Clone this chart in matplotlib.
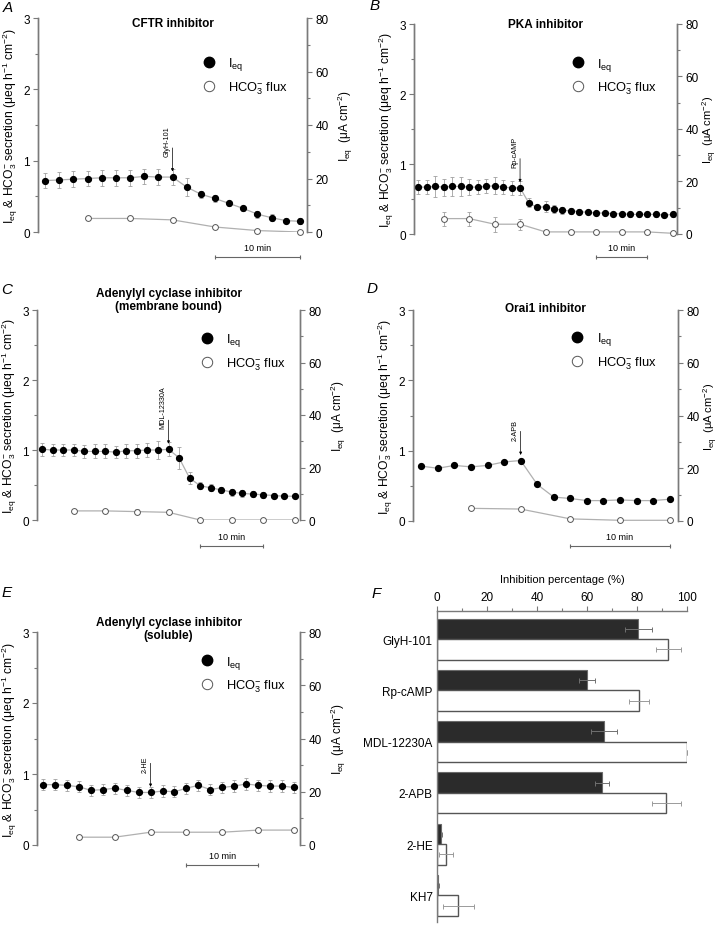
import numpy as np
import matplotlib
matplotlib.use("Agg")
import matplotlib.pyplot as plt
from matplotlib.lines import Line2D
from matplotlib.ticker import MultipleLocator

plt.rcParams['font.family'] = ['Liberation Sans', 'DejaVu Sans']
plt.rcParams['mathtext.fontset'] = 'custom'
plt.rcParams['mathtext.rm'] = 'Liberation Sans'
plt.rcParams['mathtext.it'] = 'Liberation Sans:italic'
plt.rcParams['mathtext.bf'] = 'Liberation Sans:bold'
plt.rcParams['mathtext.default'] = 'regular'

# ---------------- data ----------------
# Panel A: CFTR inhibitor (GlyH-101)
A_ieq = [0.72, 0.73, 0.74, 0.75, 0.76, 0.76, 0.76, 0.78, 0.77, 0.77,
         0.63, 0.53, 0.47, 0.40, 0.33, 0.25, 0.20, 0.16, 0.15]
A_ieq_err = [0.11, 0.11, 0.11, 0.11, 0.11, 0.11, 0.11, 0.11, 0.11, 0.11,
             0.13, 0.05, 0.05, 0.04, 0.04, 0.05, 0.05, 0.04, 0.04]
A_hco3_t = [3, 6, 9, 12, 15, 18]
A_hco3 = [0.19, 0.19, 0.17, 0.07, 0.02, 0.00]
A_hco3_err = [0.02, 0.02, 0.03, 0.02, 0.01, 0.01]

# Panel B: PKA inhibitor (Rp-cAMP)
B_ieq = [0.67, 0.67, 0.68, 0.67, 0.68, 0.68, 0.67, 0.67, 0.68, 0.69, 0.67, 0.66, 0.66,
         0.45, 0.38, 0.39, 0.36, 0.34, 0.33, 0.32, 0.31, 0.30, 0.30, 0.29, 0.29,
         0.28, 0.28, 0.28, 0.28, 0.27, 0.28]
B_ieq_err = [0.10, 0.10, 0.15, 0.12, 0.14, 0.13, 0.11, 0.10, 0.10, 0.12, 0.10, 0.10, 0.10,
             0.06, 0.04, 0.08, 0.06, 0.05, 0.04, 0.04, 0.03, 0.03, 0.03, 0.03, 0.03,
             0.03, 0.03, 0.03, 0.03, 0.03, 0.03]
B_hco3_t = [3, 6, 9, 12, 15, 18, 21, 24, 27, 30]
B_hco3 = [0.22, 0.22, 0.14, 0.14, 0.03, 0.03, 0.03, 0.03, 0.03, 0.01]
B_hco3_err = [0.10, 0.10, 0.11, 0.08, 0.02, 0.02, 0.02, 0.02, 0.02, 0.01]

# Panel C: adenylyl cyclase inhibitor, membrane bound (MDL-12330A)
C_ieq = [1.01, 1.00, 1.00, 1.00, 0.98, 0.98, 0.98, 0.97, 0.99, 0.99, 1.00, 1.00, 1.01,
         0.89, 0.60, 0.49, 0.46, 0.43, 0.40, 0.38, 0.37, 0.36, 0.35, 0.34, 0.34]
C_ieq_err = [0.09, 0.09, 0.09, 0.09, 0.09, 0.10, 0.10, 0.09, 0.10, 0.10, 0.10, 0.13, 0.10,
             0.16, 0.08, 0.05, 0.05, 0.04, 0.05, 0.05, 0.04, 0.04, 0.04, 0.03, 0.03]
C_hco3_t = [3, 6, 9, 12, 15, 18, 21, 24]
C_hco3 = [0.13, 0.13, 0.12, 0.11, 0.00, 0.00, 0.00, 0.00]
C_hco3_err = [0.01, 0.01, 0.04, 0.02, 0.01, 0.01, 0.01, 0.01]

# Panel D: Orai1 inhibitor (2-APB)
D_ieq = [0.78, 0.75, 0.79, 0.77, 0.79, 0.84, 0.86, 0.52, 0.34, 0.32, 0.29, 0.29,
         0.30, 0.29, 0.29, 0.31]
D_ieq_err = [0.0] * 16
D_hco3_t = [3, 6, 9, 12, 15]
D_hco3 = [0.18, 0.17, 0.03, 0.01, 0.01]
D_hco3_err = [0.0] * 5

# Panel E: adenylyl cyclase inhibitor, soluble (2-HE)
E_ieq = [0.85, 0.85, 0.84, 0.82, 0.77, 0.78, 0.80, 0.77, 0.74, 0.74, 0.76, 0.75,
         0.80, 0.84, 0.78, 0.81, 0.83, 0.86, 0.84, 0.83, 0.83, 0.81]
E_ieq_err = [0.08] * 22
E_hco3_t = [3, 6, 9, 12, 15, 18, 21]
E_hco3 = [0.11, 0.11, 0.18, 0.18, 0.18, 0.21, 0.21]
E_hco3_err = [0.02, 0.02, 0.02, 0.02, 0.02, 0.02, 0.02]

# Panel F: inhibition percentage
F_drugs = ['GlyH-101', 'Rp-cAMP', 'MDL-12230A', '2-APB', '2-HE', 'KH7']
F_ieq = [80.5, 60.0, 66.8, 66.0, 1.8, 0.5]
F_ieq_err = [5.3, 3.1, 5.3, 2.7, 0.3, 0.3]
F_hco3 = [92.5, 80.7, 99.8, 91.7, 3.7, 8.5]
F_hco3_err = [5.0, 4.0, 0.0, 5.8, 2.9, 6.2]

# ---------------- style ----------------
GRAY = '#7a7a7a'
TICK_FS = 8.5
left_label = r'I$_{\mathrm{eq}}$ & HCO$_3^{-}$ secretion (μeq h$^{-1}$ cm$^{-2}$)'
right_label = r'I$_{\mathrm{eq}}$  (μA cm$^{-2}$)'

W, H = 720, 928
fig = plt.figure(figsize=(W / 100, H / 100), dpi=100)


def rect(l, r, t, b):
    return [l / W, 1 - b / H, (r - l) / W, (b - t) / H]


def style_spines(ax, show):
    for k, s in ax.spines.items():
        s.set_visible(k in show)
        s.set_color(GRAY)
        s.set_linewidth(1.0)
    ax.tick_params(which='both', color=GRAY, labelsize=TICK_FS, width=0.8)
    ax.tick_params(which='major', length=3.5, pad=2.5)
    ax.tick_params(which='minor', length=2)


def timecourse(pos, ieq, ieq_err, ht, hco3, hco3_err, drug, scale, title, title_y,
               leg_xy, sb_y, rpad=5, rfs=8.5):
    ax = fig.add_axes(pos)
    n = len(ieq)
    t = np.arange(n)
    ax.errorbar(t, ieq, yerr=ieq_err, fmt='none', ecolor='#a0a0a0', elinewidth=0.6,
                capsize=1.6, capthick=0.6, zorder=2)
    ax.plot(t, ieq, '-', color='#b0b0b0', lw=0.9, zorder=2.5)
    ax.plot(t, ieq, 'o', ms=4.2, color='black', zorder=4, clip_on=False)
    ax.errorbar(ht, hco3, yerr=hco3_err, fmt='none', ecolor='#a0a0a0', elinewidth=0.6,
                capsize=1.6, capthick=0.6, zorder=2)
    ax.plot(ht, hco3, '-', color='#b0b0b0', lw=0.9, zorder=2.5)
    ax.plot(ht, hco3, 'o', ms=4.2, mfc='white', mec='#555555', mew=0.7, zorder=4,
            clip_on=False)
    ax.set_xlim(-0.5, n - 0.5)
    ax.set_ylim(0, 3)
    ax.set_xticks([])
    ax.yaxis.set_major_locator(MultipleLocator(1))
    ax.yaxis.set_minor_locator(MultipleLocator(0.5))
    style_spines(ax, ['left', 'right'])
    ax.set_ylabel(left_label, fontsize=8.7, labelpad=2)

    ax2 = ax.twinx()
    ax2.set_ylim(0, 80)
    ax2.yaxis.set_major_locator(MultipleLocator(20))
    ax2.yaxis.set_minor_locator(MultipleLocator(10))
    style_spines(ax2, ['left', 'right'])
    ax2.set_ylabel(right_label, fontsize=rfs, labelpad=rpad)

    # drug application arrow
    name, i = drug
    ax.annotate('', xy=(i, ieq[i]), xytext=(0, 21), textcoords='offset points',
                arrowprops=dict(arrowstyle='-|>', color='black', lw=0.5,
                                mutation_scale=4, shrinkA=0, shrinkB=4))
    ax.annotate(name, xy=(i, ieq[i]), xytext=(-1.2, 15), textcoords='offset points',
                rotation=90, ha='right', va='bottom', fontsize=5.2)

    # scale bar
    s0, s1 = scale
    ax.plot([s0, s1], [sb_y, sb_y], color='#666666', lw=0.8, clip_on=False)
    ax.plot([s0, s1], [sb_y, sb_y], '|', color='#666666', ms=3, mew=0.8, clip_on=False)
    ax.text((s0 + s1) / 2, sb_y + 0.07, '10 min', ha='center', va='bottom', fontsize=6.5)

    ax.text(0.5, title_y, title, transform=ax.transAxes, ha='center', va='center',
            fontsize=8.5, fontweight='bold', linespacing=1.15)

    handles = [Line2D([], [], marker='o', ls='none', color='black', ms=7.5),
               Line2D([], [], marker='o', ls='none', mfc='white', mec='#555555', mew=0.7, ms=7.5)]
    ax.legend(handles, [r'I$_{\mathrm{eq}}$', r'HCO$_3^{-}$ flux'], loc='center left',
              bbox_to_anchor=leg_xy, frameon=False, fontsize=9.3, handlelength=1.0,
              handletextpad=0.98, labelspacing=0.55, borderpad=0, borderaxespad=0)
    return ax


timecourse(rect(38, 307, 19, 233), A_ieq, A_ieq_err, A_hco3_t, A_hco3, A_hco3_err,
           ('GlyH-101', 9), (12, 18), 'CFTR inhibitor', 0.975, (0.61, 0.73), -0.35)
timecourse(rect(414, 677, 25, 235), B_ieq, B_ieq_err, B_hco3_t, B_hco3, B_hco3_err,
           ('Rp-cAMP', 12), (21, 27), 'PKA inhibitor', 1.0, (0.60, 0.752), -0.33,
           rpad=1.5, rfs=8)
timecourse(rect(37, 300, 311, 521), C_ieq, C_ieq_err, C_hco3_t, C_hco3, C_hco3_err,
           ('MDL-12330A', 12), (15, 21), 'Adenylyl cyclase inhibitor\n(membrane bound)',
           1.05, (0.623, 0.802), -0.37)
timecourse(rect(413, 678, 311, 522), D_ieq, D_ieq_err, D_hco3_t, D_hco3, D_hco3_err,
           ('2-APB', 6), (9, 15), 'Orai1 inhibitor', 1.01, (0.596, 0.808), -0.36,
           rpad=1.5, rfs=8)
timecourse(rect(37, 300, 633, 846), E_ieq, E_ieq_err, E_hco3_t, E_hco3, E_hco3_err,
           ('2-HE', 9), (12, 18), 'Adenylyl cyclase inhibitor\n(soluble)',
           1.015, (0.623, 0.802), -0.28)

# ---------------- Panel F ----------------
axF = fig.add_axes(rect(437, 687, 612, 923))
yy = np.arange(len(F_drugs))
axF.barh(yy - 0.2, F_ieq, height=0.4, color='#2b2b2b', edgecolor='#6a6a6a', lw=0.8, zorder=2)
axF.barh(yy + 0.2, F_hco3, height=0.4, color='white', edgecolor='#555555', lw=1.0, zorder=2)
axF.errorbar(F_ieq, yy - 0.2, xerr=F_ieq_err, fmt='none', ecolor='#707070', elinewidth=0.7,
             capsize=1.8, capthick=0.7, zorder=3)
axF.errorbar(F_hco3, yy + 0.2, xerr=F_hco3_err, fmt='none', ecolor='#9a9a9a', elinewidth=0.7,
             capsize=1.8, capthick=0.7, zorder=3)
axF.set_xlim(0, 100)
axF.set_ylim(5.52, -0.55)
axF.xaxis.tick_top()
axF.xaxis.set_label_position('top')
axF.xaxis.set_major_locator(MultipleLocator(20))
axF.xaxis.set_minor_locator(MultipleLocator(10))
style_spines(axF, ['left', 'top'])
axF.set_yticks(yy)
axF.set_yticklabels(F_drugs)
axF.tick_params(axis='y', length=0, pad=3, labelsize=8.5)
axF.set_xlabel('Inhibition percentage (%)', fontsize=8, labelpad=6)

# panel letters
for letter, x, y in [('A', 3, 8), ('B', 370, 6), ('C', 1, 290), ('D', 367, 289),
                     ('E', 2, 593), ('F', 372, 594)]:
    fig.text(x / W, 1 - y / H, letter, fontsize=11, fontstyle='italic', va='center', ha='left')

fig.savefig('out.png', dpi=100)
